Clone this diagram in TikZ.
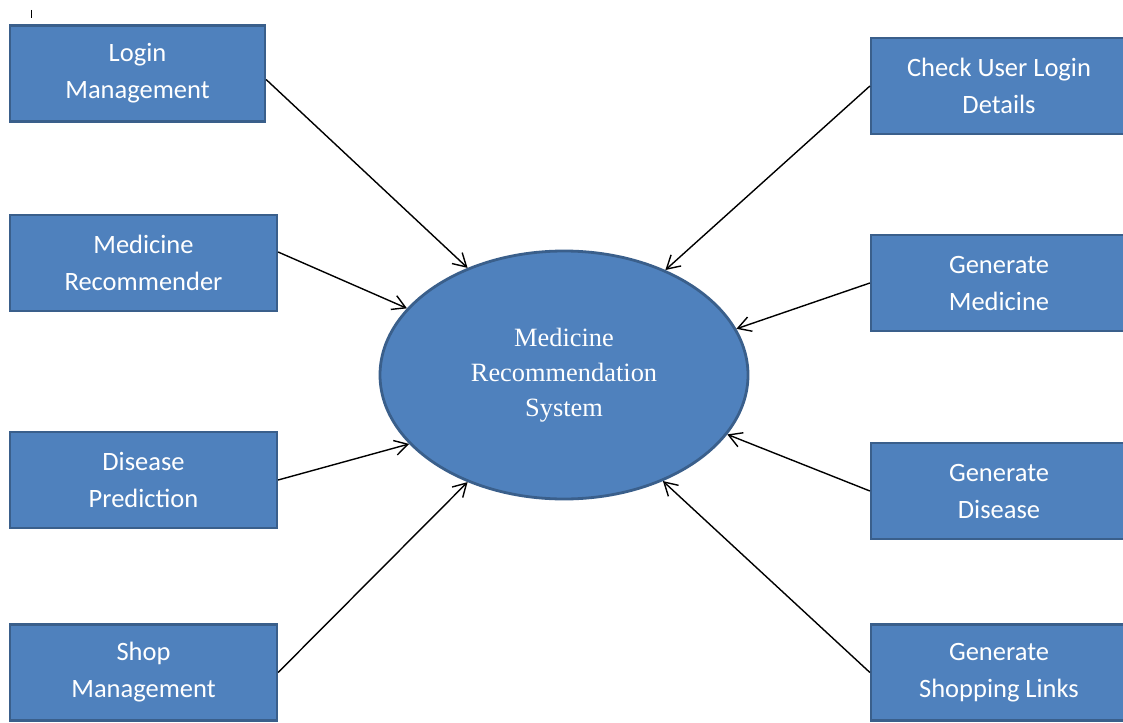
\documentclass[tikz,border=0pt]{standalone}
\usepackage{fontspec}
\setmainfont{Liberation Serif}
\newfontfamily\boxfont{Carlito}
\usetikzlibrary{arrows.meta,shapes.geometric}
\definecolor{boxblue}{HTML}{4F81BD}
\definecolor{boxedge}{HTML}{3A5F8B}

\begin{document}
\begin{tikzpicture}
  [x=1pt, y=-1pt,
   module/.style={draw=boxedge, line width=2.2pt, fill=boxblue, text=white,
     minimum height=96pt, inner sep=0pt, align=center,
     font=\boxfont\fontsize{26.5}{37}\selectfont},
   flow/.style={-{Straight Barb[length=13pt,width=15pt]}, line width=1.4pt}]
  \useasboundingbox (0,0) rectangle (1123,722);
  \clip (0,0) rectangle (1123,722);
  \fill[white] (0,0) rectangle (1123,722);
  \draw[line width=1pt] (31,10) -- (31,18);

  \node [draw=boxedge, line width=2.8pt, fill=boxblue, text=white, ellipse,
    minimum width=368pt, minimum height=248pt, inner sep=0pt, align=center,
    font=\fontsize{26.4}{35}\selectfont] (sys) at (564,375)
    {Medicine\\ Recommendation\\ System};

  \node [module, minimum width=255pt] (login) at (137.5,73.5) {Login\\ Management};
  \node [module, minimum width=267pt] (medrec) at (143.5,263) {Medicine\\ Recommender};
  \node [module, minimum width=267pt] (disease) at (143.5,480) {Disease\\ Prediction};
  \node [module, minimum width=267pt] (shop) at (143.5,672.5) {Shop\\ Management};

  \node [module, minimum width=256pt] (check) at (999,86) {Check User Login\\ Details};
  \node [module, minimum width=256pt] (genmed) at (999,283) {Generate\\ Medicine};
  \node [module, minimum width=256pt] (gendis) at (999,491) {Generate\\ Disease};
  \node [module, minimum width=256pt] (genshop) at (999,672.5) {Generate\\ Shopping Links};

  \draw [flow] ([yshift=-6pt]login.east) -- (sys.132);
  \draw [flow] ([yshift=11pt]medrec.east) -- (sys.157);
  \draw [flow] (disease.east) -- (sys.204);
  \draw [flow] (shop.east) -- (sys.228);
  \draw [flow] (check.west) -- (sys.46);
  \draw [flow] (genmed.west) -- (sys.15);
  \draw [flow] (gendis.west) -- (sys.340);
  \draw [flow] (genshop.west) -- (sys.313);
\end{tikzpicture}
\end{document}
